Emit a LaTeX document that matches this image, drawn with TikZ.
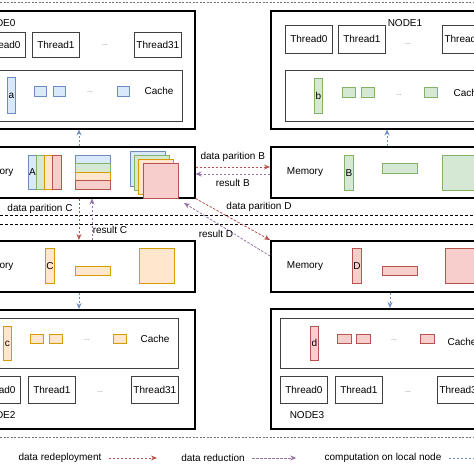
\documentclass[tikz,border=0pt]{standalone}
\usepackage{fontspec}
\setmainfont{Liberation Sans}
\usetikzlibrary{arrows.meta}
\definecolor{bluefill}{HTML}{DAE8FC}
\definecolor{bluedraw}{HTML}{6C8EBF}
\definecolor{greenfill}{HTML}{D5E8D4}
\definecolor{greendraw}{HTML}{82B366}
\definecolor{yellowfill}{HTML}{FFE6CC}
\definecolor{yellowdraw}{HTML}{D79B00}
\definecolor{redfill}{HTML}{F8CECC}
\definecolor{reddraw}{HTML}{B85450}
\definecolor{purpledraw}{HTML}{9673A6}

\begin{document}
\begin{tikzpicture}[x=1pt,y=-1pt,font=\fontsize{10}{12}\selectfont,
    bigbox/.style={draw,line width=1.5pt,anchor=north west,inner sep=0pt},
    inbox/.style={draw=black!75,line width=0.8pt,anchor=north west,inner sep=0pt},
    thrbox/.style={draw=black!75,line width=0.8pt,anchor=north west,inner sep=0pt,minimum width=47pt},
    bbl/.style={fill=bluefill,draw=bluedraw,line width=0.8pt},
    bgr/.style={fill=greenfill,draw=greendraw,line width=0.8pt},
    bye/.style={fill=yellowfill,draw=yellowdraw,line width=0.8pt},
    brd/.style={fill=redfill,draw=reddraw,line width=0.8pt},
    bar/.style={anchor=north west,inner sep=0pt,minimum width=8pt,minimum height=35pt},
    dots/.style={text=black!55,font=\fontsize{7}{8}\selectfont},
    arr/.style={dashed,dash pattern=on 2.5pt off 1.5pt,line width=0.8pt,-{Stealth[length=6pt,width=5pt]}},
    redarr/.style={arr,draw=reddraw},
    purarr/.style={arr,draw=purpledraw},
    bluarr/.style={arr,draw=bluedraw}]
  \useasboundingbox (0,0) rectangle (474,474);

  % outer frame lines
  \draw[black!55,line width=0.8pt,dash pattern=on 2pt off 1.5pt] (0,2) -- (474,2);
  \draw[black!55,line width=0.8pt,dash pattern=on 2pt off 1.5pt] (0,437) -- (474,437);
  \draw[line width=0.9pt,dash pattern=on 3pt off 2pt] (0,215) -- (474,215);
  \draw[line width=0.9pt,dash pattern=on 3pt off 2pt] (0,224) -- (474,224);

  % NODE0
  \node[bigbox,minimum width=214pt,minimum height=118pt] (n0) at (-20,10) {};
  \node[anchor=east] at (19,23) {NODE0};
  \foreach \x/\t in {-22/Thread0,32/Thread1,134/Thread31}
    {\node[thrbox,minimum height=25pt] (n0\t) at (\x,32) {\t};}
  \node[dots] at (105,45) {...};
  \node[inbox,minimum width=202pt,minimum height=51pt] (c0) at (-20,70) {};
  \node[bar,bbl,minimum height=36pt] (ca) at (7,77) {a};
  \foreach \x in {34,53,117} {\draw[bbl] (\x,86) rectangle ++(12,10);}
  \node[dots] at (90,92) {...};
  \node at (159,91) {Cache};

  % NODE1
  \node[bigbox,minimum width=230pt,minimum height=118pt] (n1) at (270,10) {};
  \node at (405,23) {NODE1};
  \foreach \x/\t in {285/Thread0,338/Thread1,442/Thread31}
    {\node[thrbox,minimum height=28pt] (n1\t) at (\x,25) {\t};}
  \node[dots] at (408,44) {...};
  \node[inbox,minimum width=215pt,minimum height=51pt] (c1) at (285,70) {};
  \node[bar,bgr,minimum height=35pt] (cb) at (314,78) {b};
  \foreach \x in {342,361,424} {\draw[bgr] (\x,87) rectangle ++(13,10);}
  \node[dots] at (399,95) {...};
  \node[anchor=west] at (450,93) {Cache};

  % memory of NODE0 and NODE1
  \node[bigbox,minimum width=214pt,minimum height=51pt] (m0) at (-20,146) {};
  \node[anchor=east] at (17,172) {Memory};
  \foreach \c/\d in {bbl/0,bgr/1,bye/2,brd/3}
    {\draw[\c] ({28+8.25*\d},155) rectangle ++(8.25,34);
     \draw[\c] (75,{155+8.5*\d}) rectangle ++(35,8.5);}
  \node at (32.5,172) {A};
  \foreach \c/\d in {bbl/0,bgr/1,bye/2,brd/3}
    {\draw[\c] ({130+4.3*\d},{151+4*\d}) rectangle ++(35,35);}
  \node[bigbox,minimum width=230pt,minimum height=51pt] (m1) at (270,146) {};
  \node at (305,172) {Memory};
  \node[bar,bgr,minimum width=9pt] (mB) at (344,155) {B};
  \draw[bgr] (382,163) rectangle ++(35,10);
  \draw[bgr] (442,155) rectangle ++(35,35);

  % memory of NODE2 and NODE3
  \node[bigbox,minimum width=214pt,minimum height=51pt] (m2) at (-20,240) {};
  \node[anchor=east] at (17,266) {Memory};
  \node[bar,bye,minimum width=9pt] (mC) at (45,248) {C};
  \draw[bye] (75,266) rectangle ++(35,9);
  \draw[bye] (139,248) rectangle ++(35,35);
  \node[bigbox,minimum width=230pt,minimum height=51pt] (m3) at (270,240) {};
  \node at (305,266) {Memory};
  \node[bar,brd,minimum width=9pt] (mD) at (352,248) {D};
  \draw[brd] (382,266) rectangle ++(35,9);
  \draw[brd] (445,248) rectangle ++(35,35);

  % NODE2
  \node[bigbox,minimum width=214pt,minimum height=119pt] (n2) at (-20,309) {};
  \node[inbox,minimum width=198pt,minimum height=50pt] (c2) at (-20,318) {};
  \node[bar,bye,minimum height=34pt] (cc) at (3,326) {c};
  \foreach \x in {30,49,113} {\draw[bye] (\x,334) rectangle ++(13,9);}
  \node[dots] at (87,340) {...};
  \node at (155,339) {Cache};
  \foreach \x/\t in {-27/Thread0,28/Thread1,131/Thread31}
    {\node[thrbox,minimum height=27pt] (n2\t) at (\x,376) {\t};}
  \node[dots] at (100,392) {...};
  \node[anchor=east] at (19,415) {NODE2};

  % NODE3
  \node[bigbox,minimum width=230pt,minimum height=120pt] (n3) at (270,308) {};
  \node[inbox,minimum width=220pt,minimum height=50pt] (c3) at (280,318) {};
  \node[bar,brd,minimum height=34pt] (cd) at (310,326) {d};
  \foreach \x in {337,356,420} {\draw[brd] (\x,334) rectangle ++(14,9);}
  \node[dots] at (394,340) {...};
  \node[anchor=west] at (444,342) {Cache};
  \foreach \x/\t in {280/Thread0,335/Thread1,437/Thread31}
    {\node[thrbox,minimum height=27pt] (n3\t) at (\x,376) {\t};}
  \node[dots] at (408,392) {...};
  \node at (307,415) {NODE3};

  % connectors
  \coordinate (xa) at (79,0);
  \coordinate (xc) at (92,0);
  \coordinate (xb) at (387,0);
  \coordinate (xd) at (390,0);
  \coordinate (yb) at (0,167);
  \coordinate (yr) at (0,174);
  \coordinate (ydr) at (0,256);
  \coordinate (rd) at (184,203);
  \draw[bluarr] (m0.north -| xa) -- (n0.south -| xa);
  \draw[bluarr] (m1.north -| xb) -- (n1.south -| xb);
  \draw[bluarr] (m2.south -| xa) -- (n2.north -| xa);
  \draw[bluarr] (m3.south -| xd) -- (n3.north -| xd);
  \draw[redarr] (m0.east |- yb) -- node[above=2pt,black] {data parition B} (m1.west |- yb);
  \draw[purarr] (m1.west |- yr) -- node[below=2pt,black] {result B} (m0.east |- yr);
  \draw[redarr] (m0.south -| xa) -- (m2.north -| xa);
  \draw[purarr] (m2.north -| xc) -- (m0.south -| xc);
  \draw[redarr] (m0.south east) -- (m3.north west);
  \draw[purarr] (m3.west |- ydr) -- (rd);
  \node at (40,209) {data parition C};
  \node at (110,230) {result C};
  \node at (259,207) {data parition D};
  \node at (216,234) {result D};

  % legend
  \node (lg1) at (60,458) {data redeployment};
  \node (lg2) at (213,458) {data reduction};
  \node (lg3) at (383,458) {computation on local node};
  \draw[redarr] ([xshift=4pt]lg1.east) -- ++(48,0);
  \draw[purarr] ([xshift=4pt]lg2.east) -- ++(44,0);
  \draw[bluarr] ([xshift=4pt]lg3.east) -- ++(44,0);
\end{tikzpicture}
\end{document}
